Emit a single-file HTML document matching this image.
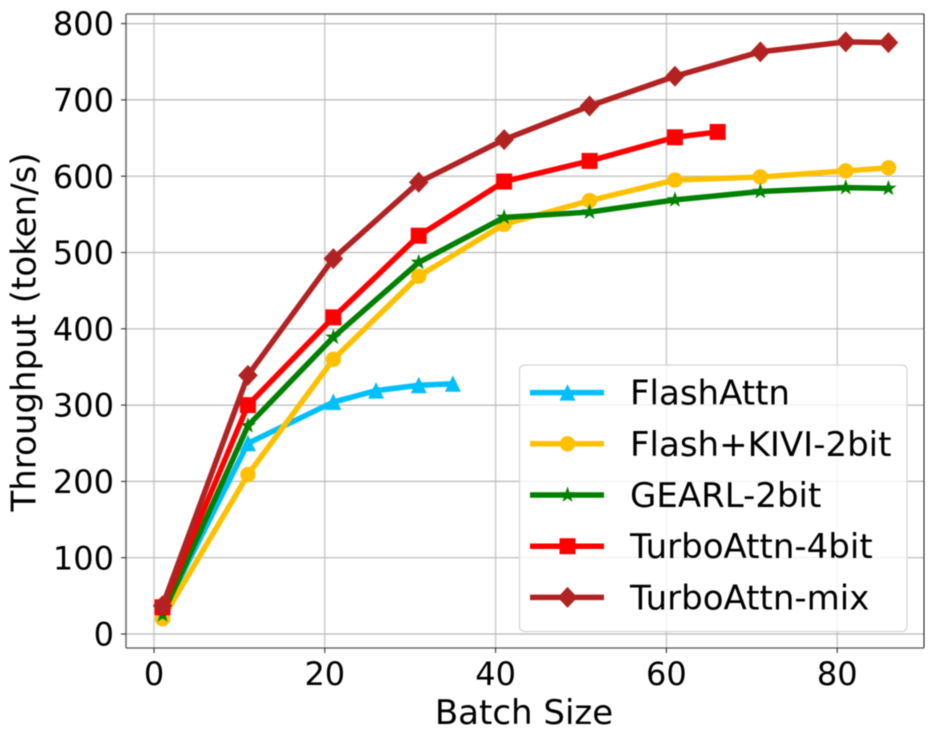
<!DOCTYPE html>
<html>
<head>
<meta charset="utf-8">
<style>
html,body{margin:0;padding:0;background:#fff;width:934px;height:742px;overflow:hidden}
svg{display:block;filter:blur(0.5px)}
text{font-family:"DejaVu Sans","Liberation Sans",sans-serif;fill:#000}
</style>
</head>
<body>
<svg id="chart" width="934" height="742" viewBox="0 0 934 742" xmlns="http://www.w3.org/2000/svg"></svg>
<script>
const xTickValues = [0, 20, 40, 60, 80];
const yTickValues = [0, 100, 200, 300, 400, 500, 600, 700, 800];

const flashX = [1, 11, 21, 26, 31, 35];
const flashY = [27, 250, 304, 319, 326, 328];
const kiviX = [1, 11, 21, 31, 41, 51, 61, 71, 81, 86];
const kiviY = [20, 209, 360, 469, 537, 568, 595, 599, 607, 611];
const gearlX = [1, 11, 21, 31, 41, 51, 61, 71, 81, 86];
const gearlY = [25, 273, 389, 487, 546, 553, 569, 580, 585, 584];
const turbo4X = [1, 11, 21, 31, 41, 51, 61, 66];
const turbo4Y = [35, 300, 415, 522, 593, 620, 651, 658];
const mixX = [1, 11, 21, 31, 41, 51, 61, 71, 81, 86];
const mixY = [37, 339, 492, 592, 648, 692, 731, 763, 776, 775];

const legendLabels = ['FlashAttn', 'Flash+KIVI-2bit', 'GEARL-2bit', 'TurboAttn-4bit', 'TurboAttn-mix'];
const seriesColors = ['#00bfff', '#ffc000', '#008000', '#ff0000', '#b22222'];
const seriesMarkers = ['triangle', 'circle', 'star', 'square', 'diamond'];
const seriesXs = [flashX, kiviX, gearlX, turbo4X, mixX];
const seriesYs = [flashY, kiviY, gearlY, turbo4Y, mixY];

const NS = 'http://www.w3.org/2000/svg';
const svg = document.getElementById('chart');
const L = 126, R = 924, T = 14, B = 648;
function xScale(v) { return 154 + v * 8.54; }
function yScale(v) { return 634 - v * 0.763; }

function make(tag, attrs, parent) {
  const el = document.createElementNS(NS, tag);
  for (const k in attrs) el.setAttribute(k, attrs[k]);
  (parent || svg).appendChild(el);
  return el;
}

function drawMarker(kind, cx, cy, color, parent) {
  let el;
  if (kind === 'circle') {
    el = make('circle', { cx: cx, cy: cy, r: 7.7, fill: color }, parent);
  } else if (kind === 'square') {
    el = make('rect', { x: cx - 8, y: cy - 8, width: 16, height: 16, fill: color }, parent);
  } else if (kind === 'diamond') {
    el = make('polygon', { points: [[cx, cy - 10.5], [cx + 9.8, cy], [cx, cy + 10.5], [cx - 9.8, cy]].join(' '), fill: color }, parent);
  } else if (kind === 'triangle') {
    el = make('polygon', { points: [[cx, cy - 8.5], [cx + 8, cy + 8], [cx - 8, cy + 8]].join(' '), fill: color }, parent);
  } else {
    const pts = [];
    for (let i = 0; i < 10; i++) {
      const rad = i % 2 === 0 ? 8.5 : 3.4;
      const a = -Math.PI / 2 + i * Math.PI / 5;
      pts.push([cx + rad * Math.cos(a), cy + rad * Math.sin(a)]);
    }
    el = make('polygon', { points: pts.join(' '), fill: color }, parent);
  }
  return el;
}

/* grid */
const gridGroup = make('g', {});


xTickValues.forEach(function (v) {
  const line = make('line', { x1: xScale(v), x2: xScale(v), y1: T, y2: B, stroke: '#cfcfcf', 'stroke-width': 1.6 }, gridGroup);
  
  
});
yTickValues.forEach(function (v) {
  const line = make('line', { x1: L, x2: R, y1: yScale(v), y2: yScale(v), stroke: '#b8b8b8', 'stroke-width': 1.2 }, gridGroup);
  
  
});

/* series */
seriesXs.forEach(function (xs, s) {
  const group = make('g', {});
  
  
  const pts = xs.map(function (x, i) { return [xScale(x), yScale(seriesYs[s][i])]; });
  const path = make('polyline', { points: pts.join(' '), fill: 'none', stroke: seriesColors[s], 'stroke-width': 5.5, 'stroke-linejoin': 'round' }, group);
  
  
  pts.forEach(function (p) {
    const m = drawMarker(seriesMarkers[s], p[0], p[1], seriesColors[s], group);
    
    
  });
});

/* spines */
const spineTop = make('line', { x1: L, x2: R, y1: T, y2: T, stroke: '#707070', 'stroke-width': 1.4 });


const spineLeft = make('line', { x1: L, x2: L, y1: T, y2: B, stroke: '#707070', 'stroke-width': 1.6 });


const spineRight = make('line', { x1: R, x2: R, y1: T, y2: B, stroke: '#111', 'stroke-width': 1 });


const spineBottom = make('line', { x1: L, x2: R, y1: B, y2: B, stroke: '#555', 'stroke-width': 1.3 });



/* ticks */
xTickValues.forEach(function (v) {
  const tick = make('line', { x1: xScale(v), x2: xScale(v), y1: B, y2: B + 5, stroke: '#222', 'stroke-width': 1 });
  
  
  const label = make('text', { x: xScale(v), y: 685, 'text-anchor': 'middle', 'font-size': 32 });
  label.textContent = String(v);
  
  
});
yTickValues.forEach(function (v) {
  const tick = make('line', { x1: L - 5, x2: L, y1: yScale(v), y2: yScale(v), stroke: '#222', 'stroke-width': 1 });
  
  
  const label = make('text', { x: 114, y: yScale(v) + 11.6, 'text-anchor': 'end', 'font-size': 32 });
  label.textContent = String(v);
  
  
});

/* axis titles */
const xTitle = make('text', { x: 524, y: 724, 'text-anchor': 'middle', 'font-size': 34 });
xTitle.textContent = 'Batch Size';


const yTitle = make('text', { x: 0, y: 0, 'text-anchor': 'middle', 'font-size': 34, transform: 'translate(35.5 332) rotate(-90)' });
yTitle.textContent = 'Throughput (token/s)';



/* legend */
const legend = make('g', {});


const legendBox = make('rect', { x: 519.5, y: 365, width: 387.5, height: 266.5, rx: 5, ry: 5, fill: '#fff', 'fill-opacity': 0.8, stroke: '#d4d4d4', 'stroke-width': 1.2 }, legend);


legendLabels.forEach(function (name, i) {
  const rowY = 392.6 + i * 51.2;
  const entry = make('g', {}, legend);
  
  
  const sample = make('line', { x1: 530, x2: 604, y1: rowY, y2: rowY, stroke: seriesColors[i], 'stroke-width': 5.5 }, entry);
  
  
  const mark = drawMarker(seriesMarkers[i], 567.5, rowY, seriesColors[i], entry);
  
  
  const text = make('text', { x: 630, y: rowY + 12, 'font-size': 34 }, entry);
  text.textContent = name;
  
  
});
</script>
</body>
</html>
